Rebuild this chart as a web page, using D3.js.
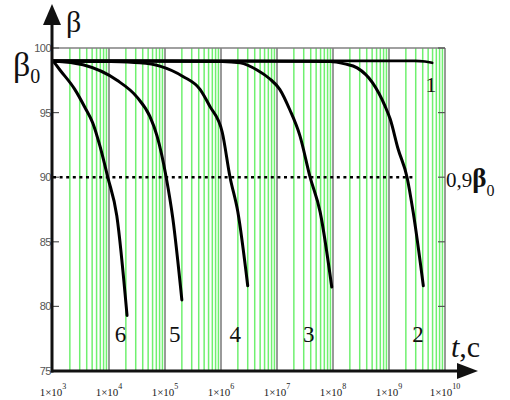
<!DOCTYPE html>
<html><head><meta charset="utf-8">
<script src="https://cdn.jsdelivr.net/npm/d3@7"></script>
<style>body{margin:0;background:#fff}svg{display:block}</style>
</head><body>
<svg id="c" width="510" height="400"></svg>
<script>
// ---- data ----
const decades = [3,4,5,6,7,8,9,10];
const yTicks = [75,80,85,90,95,100];
const curve1T = [1e3, 2.9e9, 4.4e9, 5.9e9];
const curve1B = [99.0, 99.0, 98.96, 98.85];
const curve2T = [1e3, 8.9e7, 1.62e8, 2.7e8, 5.1e8, 8.5e8, 1.05e9, 1.45e9, 2.1e9, 2.7e9, 4.1e9];
const curve2B = [99.0, 98.96, 98.77, 98.46, 97.3, 95.5, 94.5, 92.2, 90.0, 87.3, 81.6];
const curve3T = [1e3, 1.05e6, 2.2e6, 4.4e6, 7.5e6, 1.12e7, 1.7e7, 2.57e7, 3.9e7, 5.9e7, 9.5e7];
const curve3B = [99.0, 98.96, 98.85, 98.3, 97.6, 96.8, 95.2, 93.2, 90.0, 87.3, 81.5];
const curve4T = [1e3, 1.05e4, 3.55e4, 8.1e4, 2.09e5, 4.22e5, 6.3e5, 1.05e6, 1.45e6, 2.0e6, 3.0e6];
const curve4B = [99.0, 98.95, 98.85, 98.6, 97.8, 96.8, 95.5, 93.5, 90.0, 87.3, 81.6];
const curve5T = [1e3, 3.44e3, 1.39e4, 3.16e4, 5.37e4, 7.2e4, 1.05e5, 1.38e5, 2.0e5];
const curve5B = [99.0, 98.7, 97.5, 96.2, 94.7, 93.2, 90.0, 86.8, 80.5];
const curve6T = [1e3, 1.33e3, 2.45e3, 3.72e3, 5.13e3, 6.9e3, 9.5e3, 1.38e4, 2.1e4];
const curve6B = [99.0, 98.3, 96.8, 95.4, 94.2, 92.4, 90.0, 87.0, 79.3];
const curveLabels = ["1","2","3","4","5","6"];
const labelT = [null, 3.3e9, 3.7e7, 1.8e6, 1.5e5, 1.6e4];
const refLevel = 90;
const refEndT = 3.0e9;

// ---- drawing ----
const svg = d3.select("#c");
const x = d3.scaleLog().domain([1e3,1e10]).range([53,445]);
const y = d3.scaleLinear().domain([75,100]).range([371,48]);
const serif = '"Liberation Serif"';
const sans = '"Liberation Sans"';

// green minor grid
const minor = [];
for (let d = 3; d < 10; d++) for (let k = 2; k <= 9; k++) minor.push(k*Math.pow(10,d));
svg.append("g").selectAll("line").data(minor).join("line")
  .attr("x1", d=>x(d)).attr("x2", d=>x(d)).attr("y1", y(100)).attr("y2", y(75))
  .attr("stroke", "#6ff06f").attr("stroke-width", 1.5);
// grey decade lines
svg.append("g").selectAll("line").data(decades.slice(1)).join("line")
  .attr("x1", d=>x(Math.pow(10,d))).attr("x2", d=>x(Math.pow(10,d)))
  .attr("y1", y(100)).attr("y2", y(75))
  .attr("stroke", "#808080").attr("stroke-width", 1.6);
// top border
svg.append("line").attr("x1", x(1e3)).attr("x2", x(1e10)).attr("y1", y(100)).attr("y2", y(100))
  .attr("stroke", "#808080").attr("stroke-width", 1.6);

// y ticks inside on both sides
svg.append("g").selectAll("line").data(yTicks).join("line")
  .attr("x1", x(1e3)).attr("x2", x(1e3)+6).attr("y1", d=>y(d)).attr("y2", d=>y(d))
  .attr("stroke", "#555").attr("stroke-width", 1.2);
svg.append("g").selectAll("line").data(yTicks).join("line")
  .attr("x1", x(1e10)-7).attr("x2", x(1e10)).attr("y1", d=>y(d)).attr("y2", d=>y(d))
  .attr("stroke", "#555").attr("stroke-width", 1.2);
svg.append("g").selectAll("text").data(yTicks).join("text")
  .attr("x", 51).attr("y", d=>y(d)+4).attr("text-anchor","end")
  .style("font-family", sans).style("font-size", "11px")
  .attr("fill","#555").attr("letter-spacing","-0.5").text(d=>d);

// reference dotted line
svg.append("line").attr("x1", x(1e3)).attr("x2", x(refEndT))
  .attr("y1", y(refLevel)).attr("y2", y(refLevel))
  .attr("stroke","#000").attr("stroke-width",2.5).attr("stroke-dasharray","3,3.6");

// curves
const line = d3.line().x(d=>x(d[0])).y(d=>y(d[1])).curve(d3.curveMonotoneX);
const series = [[curve1T,curve1B],[curve2T,curve2B],[curve3T,curve3B],[curve4T,curve4B],[curve5T,curve5B],[curve6T,curve6B]];
series.forEach((s,i)=>{
  const pts = s[0].map((t,j)=>[t, s[1][j]]);
  svg.append("path").datum(pts).attr("d", line).attr("fill","none")
    .attr("stroke","#000").attr("stroke-width", i===0 ? 2.6 : 3)
    .attr("stroke-linecap","round");
});

// axes
svg.append("line").attr("x1", 52).attr("x2", 52).attr("y1", 372.5).attr("y2", 22)
  .attr("stroke","#111").attr("stroke-width",3);
svg.append("path").attr("d","M43,25 L52,4 L61,25 Z").attr("fill","#111");
svg.append("line").attr("x1", 51).attr("x2", 462).attr("y1", 371).attr("y2", 371)
  .attr("stroke","#111").attr("stroke-width",3);
svg.append("path").attr("d","M457,363 L478,371 L457,379 Z").attr("fill","#111");

// x tick labels
const xl = svg.append("g").selectAll("text").data(decades).join("text")
  .attr("x", d=>x(Math.pow(10,d))).attr("y", 396).attr("text-anchor","middle")
  .style("font-family", serif).style("font-size", "11px").attr("fill","#222");
xl.append("tspan").text("1×10");
xl.append("tspan").attr("dy",-7).style("font-size","8px").text(d=>d);

// curve number labels
curveLabels.forEach((lab,i)=>{
  if (i===0) return;
  svg.append("text").attr("x", x(labelT[i])).attr("y", 342).attr("text-anchor","middle")
    .style("font-family", serif).style("font-size", "23px").attr("fill","#111").text(lab);
});
svg.append("text").attr("x", 431).attr("y", 92).attr("text-anchor","middle")
  .style("font-family", serif).style("font-size", "22px").attr("fill","#111").text(curveLabels[0]);

// axis titles
svg.append("text").attr("x", 66).attr("y", 32).style("font-family", serif)
  .style("font-size", "30px").attr("fill","#111").text("β");
const b0 = svg.append("text").attr("x", 13).attr("y", 76).style("font-family", serif)
  .style("font-size", "34px").attr("fill","#111");
b0.append("tspan").text("β");
b0.append("tspan").style("font-size","20px").attr("dy",7).text("0");
const r = svg.append("text").attr("x", 446).attr("y", 187).style("font-family", serif)
  .style("font-size", "21px").attr("fill","#111");
r.append("tspan").text("0,9");
r.append("tspan").style("font-size","27px").style("font-weight","bold").text("β");
r.append("tspan").style("font-size","16px").attr("dy",9).text("0");
const tc = svg.append("text").attr("x", 451).attr("y", 357).style("font-family", serif)
  .style("font-size", "30px").attr("fill","#111");
tc.append("tspan").style("font-style","italic").text("t");
tc.append("tspan").text(",c");
</script>
</body></html>
